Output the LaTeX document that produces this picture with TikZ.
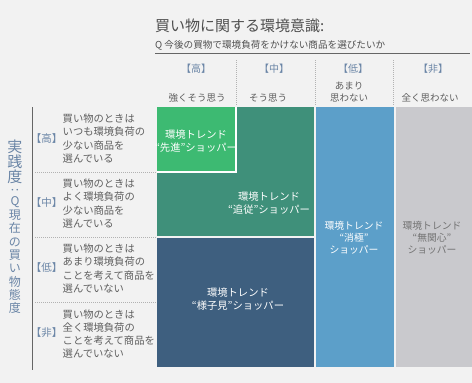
\documentclass[tikz,border=0pt]{standalone}
\usepackage{fontspec}
\setmainfont{Noto Sans CJK JP}
\definecolor{bg}{HTML}{F2F2F2}
\definecolor{txtgray}{HTML}{5E5E5E}
\definecolor{titlegray}{HTML}{4F4F4F}
\definecolor{lblue}{HTML}{6A85A6}
\definecolor{cgreen}{HTML}{3DBA72}
\definecolor{cteal}{HTML}{3F907A}
\definecolor{cdark}{HTML}{3E5F7F}
\definecolor{cblue}{HTML}{5C9FC9}
\definecolor{cgray}{HTML}{C9C9CD}
\newcommand{\hbk}[1]{\makebox[0.5em][r]{【}#1\makebox[0.5em][l]{】}}
\begin{document}
\begin{tikzpicture}[x=1pt,y=-1pt,
  desc/.style={anchor=west,align=left,inner sep=0,font=\fontsize{10.3}{13.3}\selectfont,text=txtgray},
  rowlbl/.style={inner sep=0,font=\fontsize{10.5}{12}\selectfont,text=lblue},
  colhdr/.style={inner sep=0,font=\fontsize{10}{12}\selectfont,text=lblue},
  colsub/.style={inner sep=0,align=center,font=\fontsize{9.5}{11.5}\selectfont,text=txtgray},
  boxtxt/.style={inner sep=0,align=center,font=\fontsize{10.3}{13}\selectfont,text=white},
  vbig/.style={inner sep=0,font=\fontsize{15}{15}\selectfont,text=lblue},
  vsmall/.style={inner sep=0,font=\fontsize{12}{12}\selectfont,text=lblue},
  sep/.style={draw=gray!60,dash pattern=on 1pt off 1pt,line width=0.6pt}]
\useasboundingbox[fill=bg] (0,0) rectangle (472,383);

% title
\node[anchor=west,inner sep=0,font=\fontsize{15}{15}\selectfont,text=titlegray] (title) at (155,25.5) {買い物に関する環境意識:};
\node[anchor=west,inner sep=0,font=\fontsize{9.6}{11}\selectfont,text=titlegray] (subtitle) at (155,45) {Q 今後の買物で環境負荷をかけない商品を選びたいか};
\coordinate (tl) at (155,53);
\coordinate (tr) at (470,53);
\draw[gray!80!black,line width=0.8pt] (tl) -- (tr);

% column headers
\node[colhdr] (h1) at (196,69) {【高】};
\node[colhdr] (h2) at (274,69) {【中】};
\node[colhdr] (h3) at (353,69) {【低】};
\node[colhdr] (h4) at (433,69) {【非】};
\node[colsub] (s1) at (197,98) {強くそう思う};
\node[colsub] (s2) at (268,98) {そう思う};
\node[colsub] (s3) at (349,92) {あまり\\思わない};
\node[colsub] (s4) at (430,98) {全く思わない};
\foreach \x [count=\i] in {236.5,315,393.5}{
  \coordinate (ct\i) at (\x,60);
  \coordinate (cb\i) at (\x,105);
  \draw[sep] (ct\i) -- (cb\i);
}

% boxes
\fill[cteal] (157,107) rectangle (313.5,236);
\fill[cgreen,draw=white,line width=2pt] (156,106) rectangle (235.5,171.5);
\fill[bg] (155,105) rectangle (157,173);
\fill[bg] (155,105) rectangle (237,107);
\fill[cdark] (157,238) rectangle (313.5,367);
\fill[cblue] (315.5,107) rectangle (393.5,367);
\fill[cgray] (395.5,107) rectangle (472,367);

\node[boxtxt] (b1) at (196,141) {環境トレンド\\“先進”ショッパー};
\node[boxtxt] (b2) at (269,203) {環境トレンド\\“追従”ショッパー};
\node[boxtxt] (b3) at (238,299) {環境トレンド\\“様子見”ショッパー};
\node[boxtxt,font=\fontsize{9.8}{12}\selectfont] (b4) at (354,238) {環境トレンド\\“消極”\\ショッパー};
\node[boxtxt,font=\fontsize{9.8}{12}\selectfont,text=gray!90!black] (b5) at (432,238) {環境トレンド\\“無関心”\\ショッパー};

% left axis
\coordinate (vt) at (32,107);
\coordinate (vb) at (32,370);
\draw[gray!80!black,line width=0.8pt] (vt) -- (vb);
\node[vbig] (v1) at (15,147) {実};
\node[vbig] (v2) at (15,162) {践};
\node[vbig] (v3) at (15,177) {度};
\node[vsmall] (v4) at (15,190) {\rotatebox{-90}{:}};
\node[vsmall] (v5) at (15,202) {Q};
\node[vsmall] (v6) at (15,215) {現};
\node[vsmall] (v7) at (15,228) {在};
\node[vsmall] (v8) at (15,242) {の};
\node[vsmall] (v9) at (15,255) {買};
\node[vsmall] (v10) at (15,268) {い};
\node[vsmall] (v11) at (15,282) {物};
\node[vsmall] (v12) at (15,295) {態};
\node[vsmall] (v13) at (15,308) {度};

% row labels
\node[rowlbl] (r1) at (46.5,139) {\hbk{高}};
\node[rowlbl] (r2) at (46.5,203) {\hbk{中}};
\node[rowlbl] (r3) at (46.5,268) {\hbk{低}};
\node[rowlbl] (r4) at (46.5,333) {\hbk{非}};
\node[desc] (d1) at (62.5,138.5) {買い物のときは\\いつも環境負荷の\\少ない商品を\\選んでいる};
\node[desc] (d2) at (62.5,203.5) {買い物のときは\\よく環境負荷の\\少ない商品を\\選んでいる};
\node[desc] (d3) at (62.5,268.5) {買い物のときは\\あまり環境負荷の\\ことを考えて商品を\\選んでいない};
\node[desc] (d4) at (62.5,334) {買い物のときは\\全く環境負荷の\\ことを考えて商品を\\選んでいない};
\foreach \y [count=\i] in {172,237.5,302.5}{
  \coordinate (rl\i) at (35,\y);
  \coordinate (rr\i) at (156,\y);
  \draw[sep] (rl\i) -- (rr\i);
}
\end{tikzpicture}
\end{document}
